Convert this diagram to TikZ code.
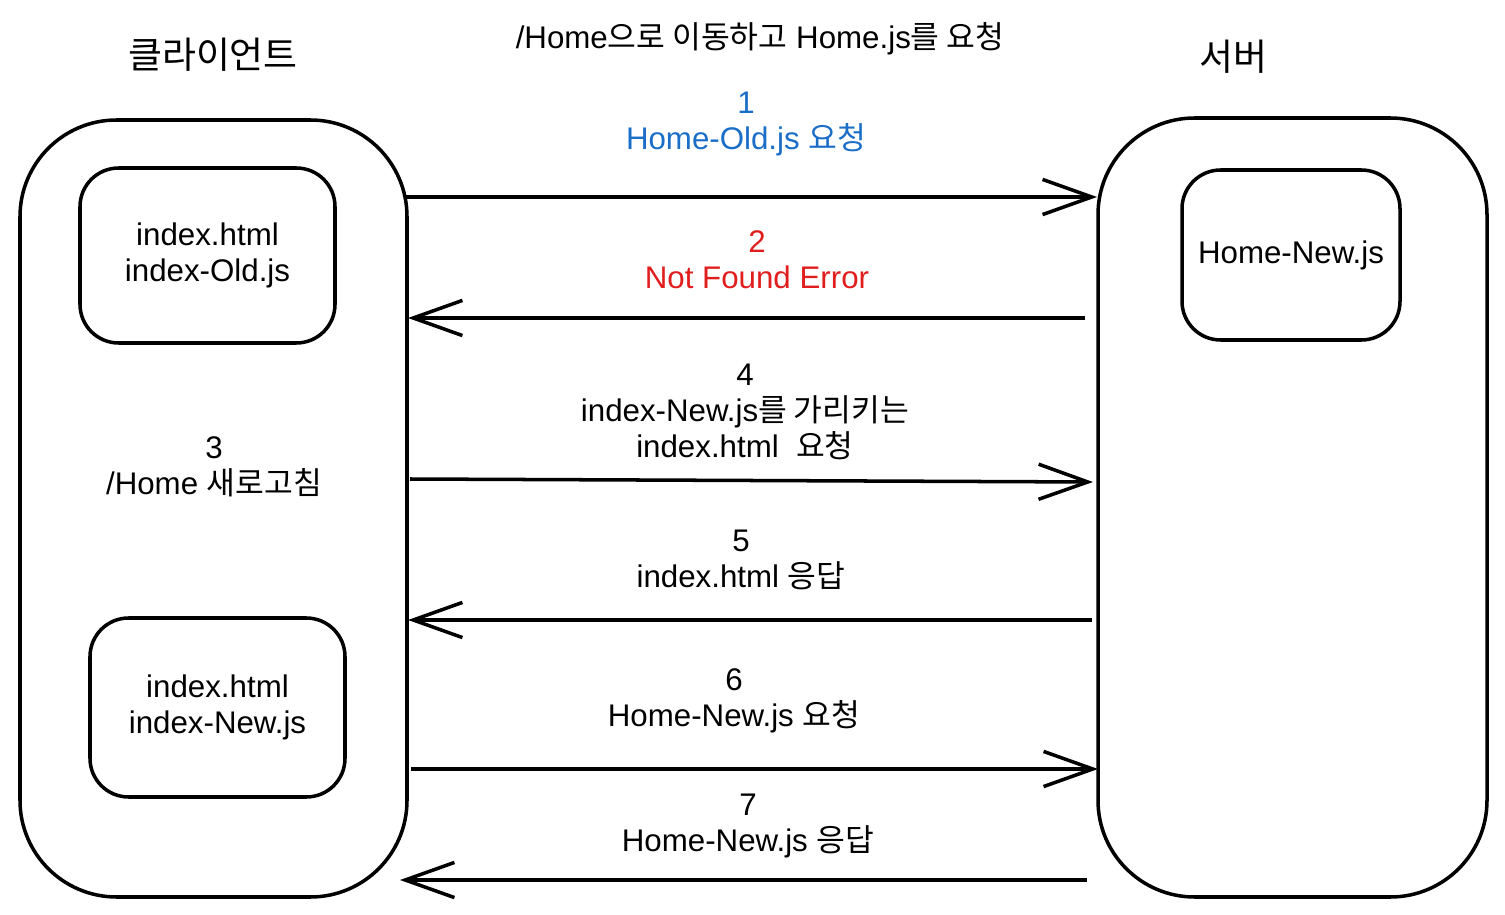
\documentclass[tikz,border=0pt]{standalone}
\usepackage{fontspec}
\setmainfont{Liberation Sans}
\newfontfamily\kr{Noto Sans CJK KR}
\usetikzlibrary{arrows.meta}
\begin{document}
\begin{tikzpicture}[x=0.02cm,y=-0.02cm,
  box/.style={draw=black,line width=2pt,rounded corners=#1},
  lbl/.style={align=center,inner sep=0pt,font=\fontsize{17.8}{20.4}\selectfont},
  title/.style={inner sep=0pt,font=\fontsize{21}{24}\selectfont\kr},
  conn/.style={line width=2pt,-{Straight Barb[length=28pt,width=20pt,line width=2pt]}}]
\useasboundingbox (0,0) rectangle (1505,915);
% big boxes
\draw[box=55pt] (20,120) rectangle (407,897);
\draw[box=55pt] (1098,118) rectangle (1487,897);
% inner boxes
\node[box=22pt,minimum width=255*0.02cm,minimum height=175*0.02cm,lbl] (old) at (207.5,255.5) {index.html\\index-Old.js};
\node[box=22pt,minimum width=255*0.02cm,minimum height=179*0.02cm,lbl] (new) at (217.5,707.5) {index.html\\index-New.js};
\node[box=22pt,minimum width=218*0.02cm,minimum height=170*0.02cm,lbl] (hn) at (1291,255) {Home-New.js};
% titles
\node[title] (tc) at (213,55) {클라이언트};
\node[title] (ts) at (1233,57) {서버};
\node[lbl] (top) at (760,39) {/Home{\kr 으로 이동하고} Home.js{\kr 를 요청}};
% labels
\node[lbl,text={rgb,255:red,26;green,110;blue,200}] (l1) at (746,124) {1\\Home-Old.js {\kr 요청}};
\node[lbl,text={rgb,255:red,224;green,30;blue,30}] (l2) at (757,260) {2\\Not Found Error};
\node[lbl] (l3) at (214,467) {3\\/Home {\kr 새로고침}};
\node[lbl] (l4) at (745,412) {4\\index-New.js{\kr 를 가리키는}\\index.html\ \ {\kr 요청}};
\node[lbl] (l5) at (741,560) {5\\index.html {\kr 응답}};
\node[lbl] (l6) at (734,701) {6\\Home-New.js {\kr 요청}};
\node[lbl] (l7) at (748,826) {7\\Home-New.js {\kr 응답}};
% arrows
\coordinate (a1s) at (405,197); \coordinate (a1e) at (1097,197);
\coordinate (a2s) at (1085,318); \coordinate (a2e) at (408,318);
\coordinate (a4s) at (410,479); \coordinate (a4e) at (1093,482);
\coordinate (a5s) at (1092,620); \coordinate (a5e) at (408,620);
\coordinate (a6s) at (411,769); \coordinate (a6e) at (1098,769);
\coordinate (a7s) at (1087,880); \coordinate (a7e) at (400,880);
\draw[conn] (a1s) -- (a1e);
\draw[conn] (a2s) -- (a2e);
\draw[conn] (a4s) -- (a4e);
\draw[conn] (a5s) -- (a5e);
\draw[conn] (a6s) -- (a6e);
\draw[conn] (a7s) -- (a7e);
\end{tikzpicture}
\end{document}
